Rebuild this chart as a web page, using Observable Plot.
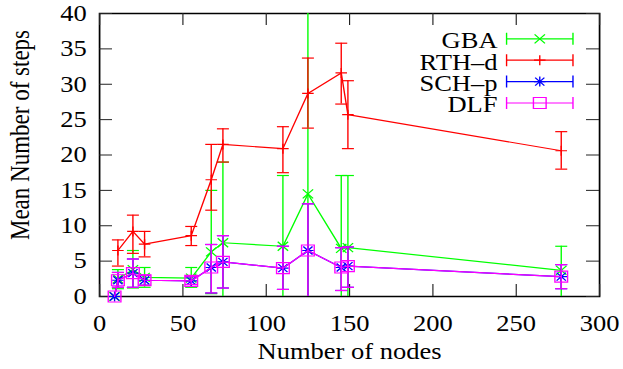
<!DOCTYPE html>
<html><head><meta charset="utf-8">
<script src="https://cdn.jsdelivr.net/npm/d3@7"></script>
<script src="https://cdn.jsdelivr.net/npm/@observablehq/plot@0.6"></script>
<style>html,body{margin:0;padding:0;background:#fff}#chart svg{display:block}</style>
</head><body><div id="chart"></div>
<script>
// ---- data ----
const nodes = [9, 11, 20, 27, 55, 67, 74, 110, 125, 145, 149, 277];

const gbaMean = [0, 2.5, 3.8, 2.7, 2.6, 6.3, 7.6, 7.1, 14.5, 6.8, 6.9, 3.7];
const gbaLow  = [0, 1.1, 1.2, 1.3, 1.3, 0.4, -2, -2, -2, -2, -2, -2];
const gbaHigh = [0, 3.8, 6.5, 4.1, 4.1, 15.0, 19.0, 17.1, 45, 17.1, 17.1, 7.1];

const rthMean = [null, 6.5, 9.2, 7.4, 8.6, 16.5, 21.5, 20.9, 28.7, 31.6, 25.7, 20.6];
const rthLow  = [null, 4.3, 6.1, 5.6, 7.2, 12.2, 19.0, 17.5, 23.8, 27.2, 20.9, 18.0];
const rthHigh = [null, 8.0, 11.5, 9.2, 9.9, 21.5, 23.7, 24.0, 33.7, 35.8, 30.5, 23.3];

const schMean = [0, 2.3, 3.3, 2.3, 2.2, 4.1, 4.9, 4.0, 6.5, 4.1, 4.3, 2.8];
const schLow  = [0, 1.3, 1.3, 1.6, 1.7, 0.5, 1.2, 1.0, -1, 0.85, 1.3, 1.1];
const schHigh = [0, 3.4, 5.3, 3.0, 2.8, 7.35, 8.6, 7.1, 13.1, 6.9, 7.0, 4.5];

const dlfMean = [0, 2.3, 3.3, 2.3, 2.2, 4.1, 4.9, 4.0, 6.5, 4.1, 4.3, 2.8];
const dlfLow  = [0, 1.3, 1.3, 1.6, 1.7, 0.5, 1.2, 1.0, -1, 0.85, 1.3, 1.1];
const dlfHigh = [0, 3.4, 5.3, 3.0, 2.8, 7.35, 8.6, 7.1, 13.1, 6.9, 7.0, 4.5];

const seriesNames = ["GBA", "RTH\u2013d", "SCH\u2013p", "DLF"];
const seriesColors = ["#00ff00", "#ff0000", "#0000ff", "#ff00ff"];

const xTicks = [0, 50, 100, 150, 200, 250, 300];
const yTicks = [0, 5, 10, 15, 20, 25, 30, 35, 40];
const xLabel = "Number of nodes";
const yLabel = "Mean Number of steps";

// ---- symbols ----
const R = s => Math.sqrt(s / Math.PI);
const symTimes = {draw(c, s){const r=R(s); c.moveTo(-r,-r); c.lineTo(r,r); c.moveTo(-r,r); c.lineTo(r,-r);}};
const symPlus = {draw(c, s){const r=R(s); c.moveTo(-r,0); c.lineTo(r,0); c.moveTo(0,-r); c.lineTo(0,r);}};
const symAst = {draw(c, s){const r=R(s); const d=r*0.8; c.moveTo(-r,0); c.lineTo(r,0); c.moveTo(0,-r); c.lineTo(0,r); c.moveTo(-d,-d); c.lineTo(d,d); c.moveTo(-d,d); c.lineTo(d,-d);}};
const symSquare = {draw(c, s){const r=R(s); c.moveTo(-r,-r); c.lineTo(r,-r); c.lineTo(r,r); c.lineTo(-r,r); c.closePath();}};
const symCap = {draw(c, s){const r=R(s); c.moveTo(-r,0); c.lineTo(r,0);}};
const symSample = {draw(c, s){const r=R(s); c.moveTo(-r,0); c.lineTo(r,0); c.moveTo(-r,-6); c.lineTo(-r,6); c.moveTo(r,-6); c.lineTo(r,6);}};
const symbols = [symTimes, symPlus, symAst, symSquare];
const symR = [4.5, 5, 5, 5.5];

// ---- layout ----
const S = 623 / 540;           // horizontal stretch
const W = 540, H = 369;
const mL = 99 / S, mR = 24 / S, mT = 13, mB = 73;
const plotW = W - mL - mR, plotH = H - mT - mB;
const FONT = "'Liberation Serif', 'Times New Roman', serif";
const FS = 23;

const seriesData = [
  [gbaMean, gbaLow, gbaHigh],
  [rthMean, rthLow, rthHigh],
  [schMean, schLow, schHigh],
  [dlfMean, dlfLow, dlfHigh]
];

const marks = [];
marks.push(Plot.frame({stroke: "#000", strokeWidth: 1.5}));
marks.push(Plot.tickX(xTicks, {x: d => d, insetTop: plotH - 12, stroke: "#222"}));
marks.push(Plot.tickX(xTicks, {x: d => d, insetBottom: plotH - 12, stroke: "#222"}));
marks.push(Plot.tickY(yTicks, {y: d => d, insetRight: plotW - 13 / S, stroke: "#222"}));
marks.push(Plot.tickY(yTicks, {y: d => d, insetLeft: plotW - 13 / S, stroke: "#222"}));
marks.push(Plot.axisX(xTicks, {tickSize: 0, tickPadding: 18, fontSize: FS, label: null}));
marks.push(Plot.axisY(yTicks, {tickSize: 0, tickPadding: 11, fontSize: FS, label: null}));
marks.push(Plot.text([xLabel], {frameAnchor: "bottom", dy: 55.6, lineAnchor: "middle", fontSize: FS}));
marks.push(Plot.text([yLabel], {frameAnchor: "left", rotate: -90, dx: 17.1 - mL, dy: -20, lineAnchor: "middle", textAnchor: "middle", fontSize: FS}));

seriesData.forEach(([mean, lo, hi], i) => {
  const rows = nodes.map((x, j) => ({x, mean: mean[j], lo: lo[j], hi: hi[j]})).filter(d => d.mean != null);
  const bars = rows.filter(d => d.hi > d.lo);
  const color = seriesColors[i];
  marks.push(Plot.line(rows, {x: "x", y: "mean", stroke: color, strokeWidth: 1.2}));
  marks.push(Plot.ruleX(bars, {x: "x", y1: "lo", y2: "hi", stroke: color, strokeWidth: 1.2, clip: true}));
  marks.push(Plot.dot(bars, {x: "x", y: "lo", symbol: symCap, r: 5.2, stroke: color, fill: "none", strokeWidth: 1.2, clip: true}));
  marks.push(Plot.dot(bars, {x: "x", y: "hi", symbol: symCap, r: 5.2, stroke: color, fill: "none", strokeWidth: 1.2, clip: true}));
  marks.push(Plot.dot(rows, {x: "x", y: "mean", symbol: symbols[i], r: symR[i], stroke: color, fill: "none", strokeWidth: 1.2}));
});

// legend
seriesNames.forEach((name, i) => {
  const rowY = 38.3 + 21.4 * i - mT;
  const color = seriesColors[i];
  marks.push(Plot.text([name], {frameAnchor: "top-right", text: d => d, dx: -(599 - 497) / S, dy: rowY + 2, textAnchor: "end", lineAnchor: "middle", fontSize: FS}));
  marks.push(Plot.dot([name], {frameAnchor: "top-right", dx: -(599 - 539.2) / S, dy: rowY, symbol: symSample, r: 33.2 / S, stroke: color, fill: "none", strokeWidth: 1.2}));
  marks.push(Plot.dot([name], {frameAnchor: "top-right", dx: -(599 - 539.2) / S, dy: rowY, symbol: symbols[i], r: symR[i], stroke: color, fill: "none", strokeWidth: 1.2}));
});

const plot = Plot.plot({
  width: W, height: H,
  marginLeft: mL, marginRight: mR, marginTop: mT, marginBottom: mB,
  x: {domain: [0, 300], label: null},
  y: {domain: [0, 40], label: null},
  style: {fontFamily: FONT, fontSize: FS + "px", background: "white", color: "black", overflow: "visible"},
  marks
});
plot.setAttribute("width", 623);
plot.setAttribute("height", 369);
plot.setAttribute("preserveAspectRatio", "none");
plot.style.width = "623px";
plot.style.height = "369px";
plot.style.maxWidth = "none";
document.getElementById("chart").appendChild(plot);
</script>
</body></html>
